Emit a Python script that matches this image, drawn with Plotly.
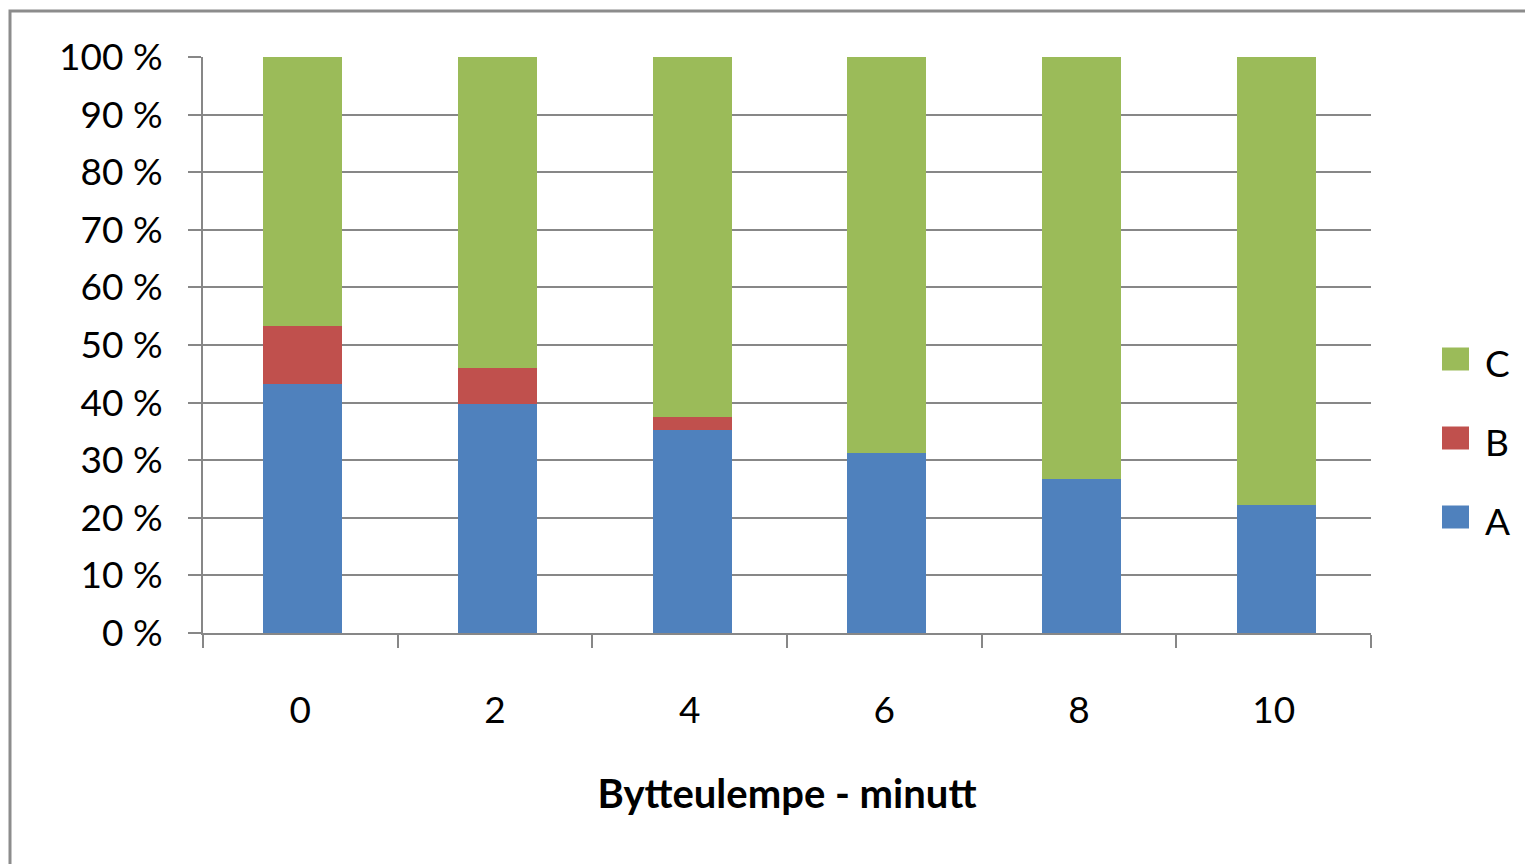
import plotly.graph_objects as go

categories = ["0", "2", "4", "6", "8", "10"]
series_names = ["A", "B", "C"]
a_values = [43.2, 39.8, 35.3, 31.3, 26.7, 22.3]
b_values = [10.15, 6.25, 2.25, 0, 0, 0]
c_values = [round(100 - a - b, 2) for a, b in zip(a_values, b_values)]
colors = ["#4F81BD", "#C0504D", "#9BBB59"]
y_ticks = list(range(0, 101, 10))
y_tick_text = [f"{v} %" for v in y_ticks]
x_title = "Bytteulempe - minutt"

FONT = "Lato"
GRID = "#878787"
W, H = 1533, 864
OFF = 8  # default page body margin
PL, PR, PT, PB = 203, 1371, 57, 633  # plot area in page pixels

fig = go.Figure()
for name, vals, col in zip(series_names, [a_values, b_values, c_values], colors):
    fig.add_trace(go.Bar(
        x=categories, y=vals, name=name, marker=dict(color=col, line=dict(width=0)),
        width=0.405, offset=-0.19, showlegend=False,
    ))

fig.update_layout(
    width=W, height=H,
    margin=dict(l=PL - OFF, r=W - (PR - OFF), t=PT - OFF, b=H - (PB - OFF), autoexpand=False),
    barmode="stack",
    plot_bgcolor="white", paper_bgcolor="white",
    font=dict(family=FONT, size=37, color="black"),
    showlegend=False,
)
fig.update_yaxes(
    range=[0, 100], tickvals=y_ticks, ticktext=y_tick_text,
    showgrid=True, gridcolor=GRID, gridwidth=2,
    showline=True, linecolor=GRID, linewidth=2,
    ticks="outside", ticklen=13, tickwidth=2, tickcolor=GRID,
    ticklabelstandoff=18, zeroline=False,
    tickfont=dict(family=FONT, size=37),
)
fig.update_xaxes(
    type="category", tickson="boundaries",
    showline=True, linecolor=GRID, linewidth=2,
    ticks="outside", ticklen=13, tickwidth=2, tickcolor=GRID,
    ticklabelstandoff=44,
    tickfont=dict(family=FONT, size=37),
    title=dict(text=f"<b>{x_title}</b>", font=dict(family=FONT, size=40), standoff=50),
)

def px_x(px):
    return (px - PL) / (PR - PL)

def px_y(py):
    return (PB - py) / (PB - PT)

# outer chart border (extends past right/bottom edges as in the reference)
fig.add_shape(type="rect", xref="paper", yref="paper",
              x0=px_x(10), x1=px_x(W + 30), y0=px_y(H + 30), y1=px_y(11),
              line=dict(color="#8C8C8C", width=3), fillcolor="rgba(0,0,0,0)")

# legend (reversed order: C on top)
leg_centers = [517, 438, 359]  # A, B, C centers in px
for name, col, cy in zip(series_names, colors, leg_centers):
    fig.add_shape(type="rect", xref="paper", yref="paper",
                  x0=px_x(1442), x1=px_x(1469), y0=px_y(cy + 11.5), y1=px_y(cy - 11.5),
                  line=dict(width=0), fillcolor=col)
    fig.add_annotation(xref="paper", yref="paper", x=px_x(1483), y=px_y(cy + 3),
                       text=name, showarrow=False, xanchor="left", yanchor="middle",
                       font=dict(family=FONT, size=37, color="black"))

fig.write_html("out.html")
